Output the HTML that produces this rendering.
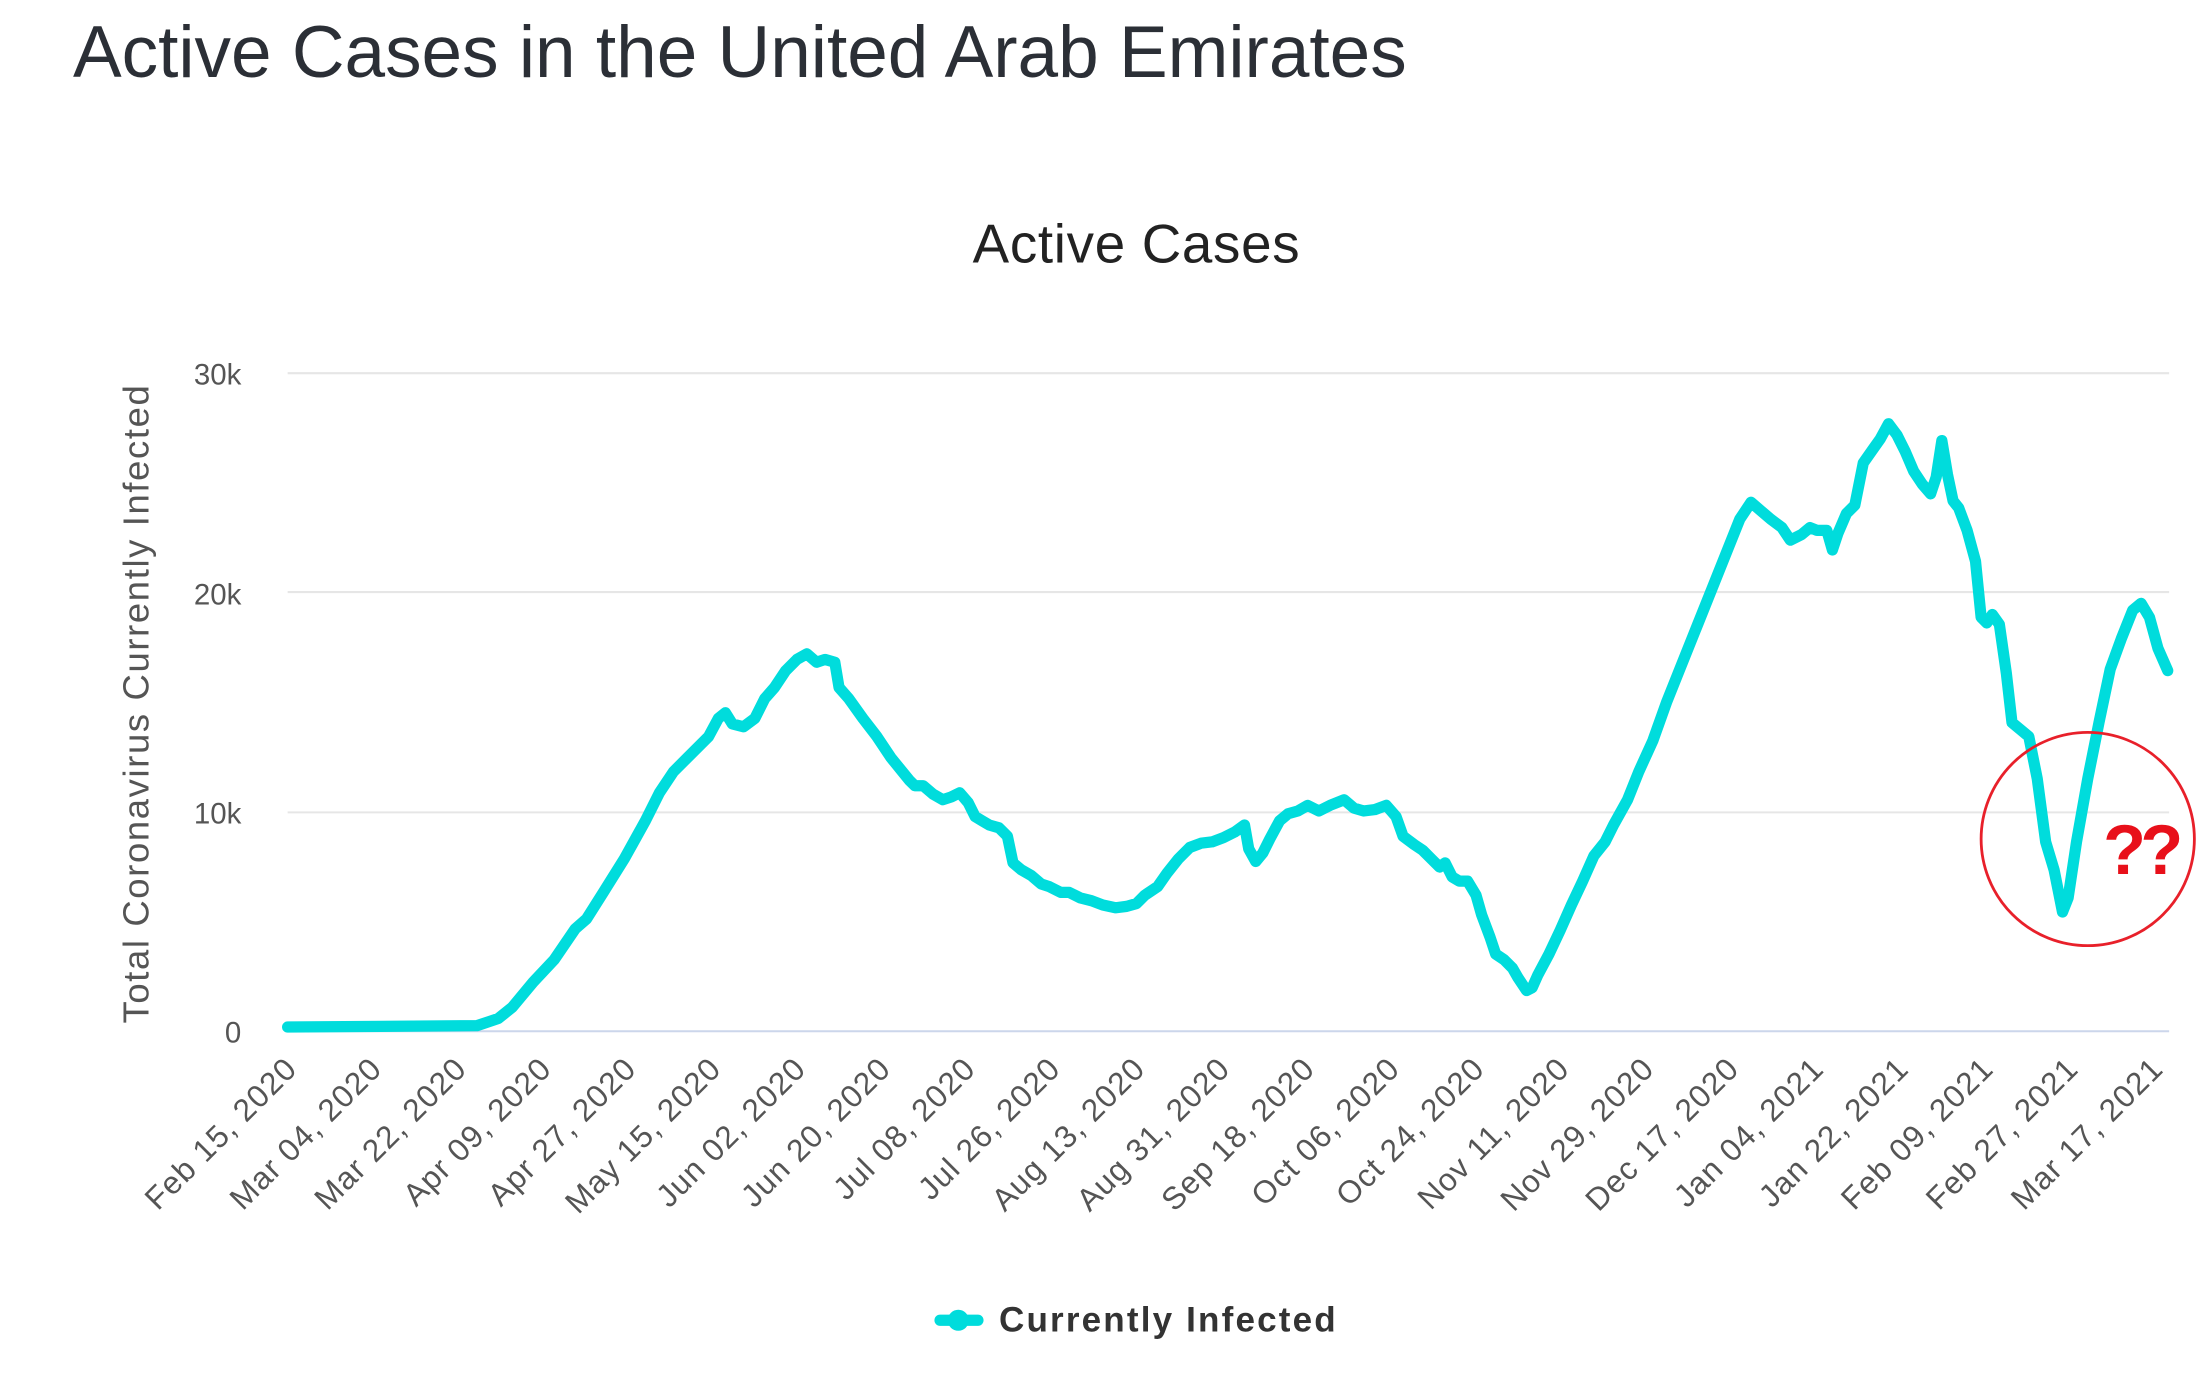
<!DOCTYPE html>
<html><head><meta charset="utf-8"><style>
html,body{margin:0;padding:0;background:#fff;}
svg{display:block;}
text{font-family:"Liberation Sans","DejaVu Sans",sans-serif;}
</style></head><body>
<svg width="2200" height="1390" viewBox="0 0 1568 990.7" preserveAspectRatio="none" xmlns="http://www.w3.org/2000/svg">
<rect width="1568" height="991" fill="#fff"/>
<text x="52" y="55" font-size="52" fill="#2b2f36">Active Cases in the United Arab Emirates</text>
<text x="810" y="187" font-size="39" fill="#222" text-anchor="middle" letter-spacing="0.5">Active Cases</text>
<g stroke="#e6e6e6" stroke-width="1.5">
<line x1="205" y1="266" x2="1546" y2="266"/>
<line x1="205" y1="422" x2="1546" y2="422"/>
<line x1="205" y1="579" x2="1546" y2="579"/>
</g>
<line x1="205" y1="735" x2="1546" y2="735" stroke="#ccd6eb" stroke-width="1.5"/>
<g font-size="21" fill="#555" text-anchor="end">
<text x="172" y="274">30k</text>
<text x="172" y="431">20k</text>
<text x="172" y="587">10k</text>
<text x="172" y="743">0</text>
</g>
<text transform="translate(106,502) rotate(-90)" font-size="26" fill="#555" text-anchor="middle" textLength="455" lengthAdjust="spacing">Total Coronavirus Currently Infected</text>
<g font-size="22.5" fill="#555" text-anchor="end" letter-spacing="0.8">
<text transform="translate(213,763) rotate(-45)">Feb 15, 2020</text>
<text transform="translate(273.5,763) rotate(-45)">Mar 04, 2020</text>
<text transform="translate(333.9,763) rotate(-45)">Mar 22, 2020</text>
<text transform="translate(394.4,763) rotate(-45)">Apr 09, 2020</text>
<text transform="translate(454.8,763) rotate(-45)">Apr 27, 2020</text>
<text transform="translate(515.3,763) rotate(-45)">May 15, 2020</text>
<text transform="translate(575.7,763) rotate(-45)">Jun 02, 2020</text>
<text transform="translate(636.2,763) rotate(-45)">Jun 20, 2020</text>
<text transform="translate(696.6,763) rotate(-45)">Jul 08, 2020</text>
<text transform="translate(757.1,763) rotate(-45)">Jul 26, 2020</text>
<text transform="translate(817.5,763) rotate(-45)">Aug 13, 2020</text>
<text transform="translate(878,763) rotate(-45)">Aug 31, 2020</text>
<text transform="translate(938.4,763) rotate(-45)">Sep 18, 2020</text>
<text transform="translate(998.9,763) rotate(-45)">Oct 06, 2020</text>
<text transform="translate(1059.3,763) rotate(-45)">Oct 24, 2020</text>
<text transform="translate(1119.8,763) rotate(-45)">Nov 11, 2020</text>
<text transform="translate(1180.2,763) rotate(-45)">Nov 29, 2020</text>
<text transform="translate(1240.7,763) rotate(-45)">Dec 17, 2020</text>
<text transform="translate(1301.1,763) rotate(-45)">Jan 04, 2021</text>
<text transform="translate(1361.6,763) rotate(-45)">Jan 22, 2021</text>
<text transform="translate(1422,763) rotate(-45)">Feb 09, 2021</text>
<text transform="translate(1482.5,763) rotate(-45)">Feb 27, 2021</text>
<text transform="translate(1543,763) rotate(-45)">Mar 17, 2021</text>
</g>
<polyline fill="none" stroke="#00dcdc" stroke-width="8" stroke-linejoin="round" stroke-linecap="round" points="205,732 340,731 355,726 365,718 380,700 395,684 410,662 418,655 430,636 445,612 460,585 470,565 480,550 490,540 500,530 505,525 512,512 517,508 522,516 530,518 538,512 545,498 552,490 560,478 568,470 575,466 582,472 588,470 595,472 598,490 605,498 615,512 625,525 635,540 648,556 652,560 658,560 665,566 672,570 678,568 684,565 690,572 695,582 700,585 705,588 712,590 718,596 722,615 728,620 735,624 742,630 748,632 756,636 762,636 770,640 778,642 786,645 795,647 803,646 810,644 816,638 825,632 832,622 840,612 848,604 856,601 864,600 872,597 880,593 887,588 890,605 895,614 900,608 905,598 912,585 918,580 925,578 932,574 940,578 948,574 958,570 965,576 972,578 980,577 988,574 995,582 1000,596 1008,602 1014,606 1020,612 1026,618 1030,615 1035,625 1040,628 1046,628 1052,638 1056,652 1062,668 1066,680 1072,684 1078,690 1082,697 1088,706 1092,704 1096,695 1104,680 1112,663 1120,645 1128,628 1136,610 1144,600 1150,588 1160,570 1168,550 1178,528 1188,500 1198,475 1210,445 1220,420 1232,390 1240,370 1248,358 1255,364 1262,370 1270,376 1276,385 1284,381 1290,376 1295,378 1302,378 1306,392 1310,380 1316,366 1322,360 1328,330 1335,320 1340,313 1346,302 1352,310 1358,322 1364,336 1370,345 1376,352 1380,340 1384,314 1388,338 1392,357 1396,362 1402,378 1408,400 1412,440 1416,444 1420,438 1425,445 1430,480 1434,515 1440,520 1446,525 1452,555 1458,600 1464,620 1470,650 1474,640 1480,600 1488,555 1496,515 1504,477 1512,455 1520,435 1526,430 1532,440 1538,462 1545,478"/>
<circle cx="1488" cy="598" r="76" fill="none" stroke="#e8202a" stroke-width="2"/>
<text x="1499" y="623" font-size="50" font-weight="bold" fill="#e8101a" letter-spacing="-4">??</text>
<line x1="670" y1="941" x2="697" y2="941" stroke="#00dcdc" stroke-width="8" stroke-linecap="round"/>
<circle cx="683" cy="941" r="7.5" fill="#00dcdc"/>
<text x="712" y="949" font-size="25" font-weight="bold" fill="#333" textLength="240" lengthAdjust="spacing">Currently Infected</text>
</svg>
</body></html>
